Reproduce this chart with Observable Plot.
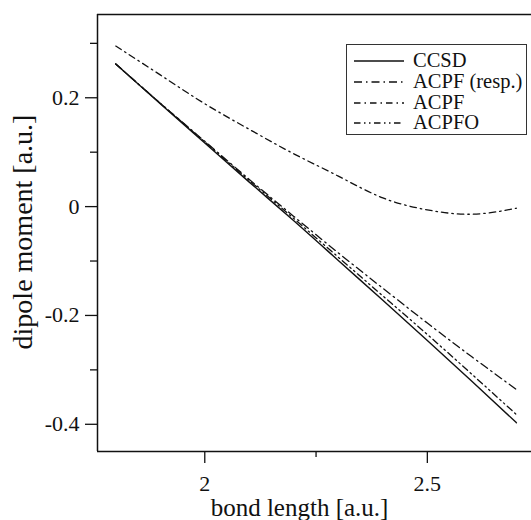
<!DOCTYPE html>
<html><head><meta charset="utf-8">
<script src="https://cdn.jsdelivr.net/npm/d3@7"></script>
<script src="https://cdn.jsdelivr.net/npm/@observablehq/plot@0.6"></script>
<style>
body{margin:0;background:#fff;}
#wrap{position:relative;width:531px;height:520px;}
#legend{position:absolute;left:346px;top:44px;width:181px;height:91px;border:1.3px solid #333;box-sizing:border-box;background:#fff;font-family:"Liberation Serif","Times New Roman",serif;font-size:20.5px;color:#111;}
.row{position:absolute;left:0;height:21px;line-height:21px;}
.row svg{position:absolute;left:6px;top:0;}
.row span{position:absolute;left:66px;top:0;white-space:nowrap;}
</style></head><body><div id="wrap"></div>
<script>
const bondLength = [1.8, 1.9, 2.0, 2.1, 2.2, 2.3, 2.4, 2.5, 2.6, 2.7];
const ccsd     = [0.262, 0.189, 0.117, 0.045, -0.026, -0.099, -0.172, -0.246, -0.321, -0.397];
const acpfResp = [0.262, 0.190, 0.120, 0.050, -0.018, -0.085, -0.150, -0.214, -0.276, -0.336];
const acpf     = [0.295, 0.242, 0.189, 0.142, 0.097, 0.056, 0.016, -0.006, -0.014, -0.003];
const acpfo    = [0.262, 0.190, 0.119, 0.048, -0.022, -0.093, -0.164, -0.235, -0.308, -0.382];
const seriesNames = ["CCSD", "ACPF (resp.)", "ACPF", "ACPFO"];
const seriesDash = [null, "8,4,1.5,4", "6.5,4,1.5,4", "6.5,3.5,1.5,3.5,1.5,3.5"];
const xTicks = [2, 2.5];
const xMinor = [2.25];
const yTicks = [-0.4, -0.2, 0, 0.2];
const yMinor = [-0.3, -0.1, 0.1, 0.3];
const xLabel = "bond length [a.u.]";
const yLabel = "dipole moment [a.u.]";

const xDomain = [1.759, 2.734];
const yDomain = [-0.45, 0.353];
const allValues = [ccsd, acpfResp, acpf, acpfo];
const fmt = d => d === 0 ? "0" : String(d);

const lineMarks = allValues.map((vals, k) => Plot.line(
  bondLength.map((x, i) => ({x, y: vals[i]})),
  {x: "x", y: "y", stroke: "#111", strokeWidth: k === 0 ? 1.4 : 1.3,
   strokeDasharray: seriesDash[k] || undefined, curve: "natural"}
));

const chart = Plot.plot({
  width: 531, height: 520,
  marginLeft: 97, marginTop: 14, marginBottom: 69, marginRight: 0,
  style: {fontFamily: "'Liberation Serif','Times New Roman',serif", background: "#fff", color: "#111"},
  x: {domain: xDomain},
  y: {domain: yDomain},
  marks: [
    Plot.axisX(xTicks, {tickSize: 12, tickPadding: 12, fontSize: 22, tickFormat: fmt, strokeWidth: 1.3, label: null}),
    Plot.axisX(xMinor, {tickSize: 6, tickFormat: () => "", strokeWidth: 1.3, label: null}),
    Plot.axisY(yTicks, {tickSize: 12, tickPadding: 6, fontSize: 22, tickFormat: fmt, strokeWidth: 1.3, label: null}),
    Plot.axisY(yMinor, {tickSize: 7, tickFormat: () => "", strokeWidth: 1.3, label: null}),
    Plot.ruleX([xDomain[0]], {stroke: "#111", strokeWidth: 1.5}),
    Plot.ruleY([yDomain[0], yDomain[1]], {stroke: "#111", strokeWidth: 1.5}),
    ...lineMarks,
    Plot.text([xLabel], {text: d => d, frameAnchor: "bottom", dx: -15, dy: 56, fontSize: 25, lineAnchor: "middle"}),
    Plot.text([yLabel], {text: d => d, frameAnchor: "left", textAnchor: "middle", dx: -74, dy: -1, rotate: -90, fontSize: 28, lineAnchor: "middle"})
  ]
});
const wrap = document.getElementById("wrap");
wrap.appendChild(chart);

const legend = document.createElement("div");
legend.id = "legend";
const rowTops = [5, 26, 47, 67];
seriesNames.forEach((name, k) => {
  const row = document.createElement("div");
  row.className = "row";
  row.style.top = rowTops[k] + "px";
  const dash = seriesDash[k] ? `stroke-dasharray="${seriesDash[k]}"` : "";
  row.innerHTML = `<svg width="52" height="21"><line x1="1" x2="51" y1="11" y2="11" stroke="#111" stroke-width="1.4" ${dash}/></svg><span>${name}</span>`;
  legend.appendChild(row);
});
wrap.appendChild(legend);
</script>
</body></html>
